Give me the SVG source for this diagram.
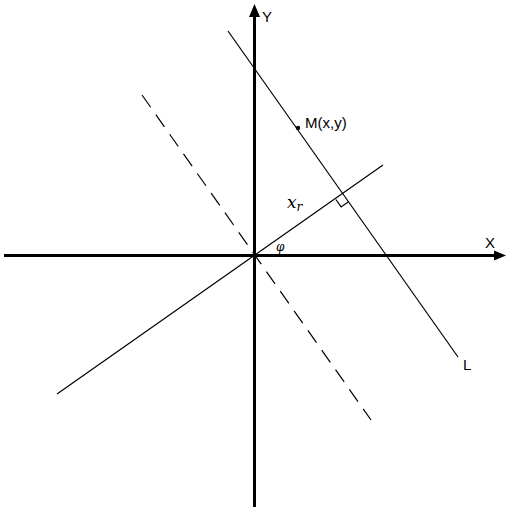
<svg xmlns="http://www.w3.org/2000/svg" width="509" height="511" viewBox="0 0 509 511">
<style>
.axis{stroke:#000;stroke-width:3;fill:none}
.thin{stroke:#000;stroke-width:1.2;fill:none}
.lbl{font-family:"Liberation Sans",Arial,sans-serif;font-size:15px;fill:#000}
.math{font-family:"DejaVu Serif","Liberation Serif",serif;font-style:italic;fill:#000}
</style>
<rect width="509" height="511" fill="#fff"/>
<g id="axes">
<line class="axis" x1="4" y1="255.5" x2="496" y2="255.5"/>
<polygon points="506,255.5 494,250.5 494,260.5" fill="#000"/>
<line class="axis" x1="254.5" y1="507" x2="254.5" y2="15"/>
<polygon points="254.5,4 249,17 260,17" fill="#000"/>
<text class="lbl" x="262" y="22">Y</text>
<text class="lbl" x="485" y="248">X</text>
</g>
<g id="lines">
<line class="thin" x1="57" y1="394" x2="383" y2="165"/>
<line class="thin" x1="228" y1="31" x2="458" y2="357"/>
<line class="thin" x1="142" y1="95" x2="371" y2="420" stroke-dasharray="15,9"/>
<polyline class="thin" points="348.5,201.7 341.1,206.9 335.9,199.5"/>
</g>
<g id="labels">
<circle cx="298" cy="128" r="2.2" fill="#000"/>
<text class="lbl" x="305" y="128">M(x,y)</text>
<text class="lbl" x="463" y="370">L</text>
<text class="math" x="287" y="208" font-size="17">x<tspan font-size="12" dy="3">r</tspan></text>
<text class="math" x="276" y="251" font-size="12">φ</text>
</g>
</svg>
